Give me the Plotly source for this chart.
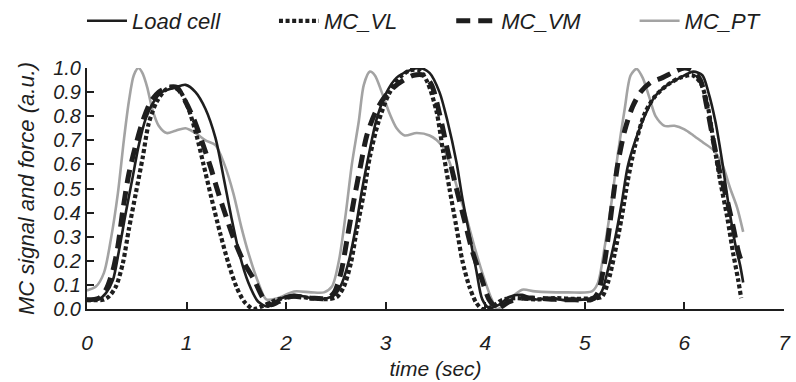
import plotly.graph_objects as go

# ---------------- data ----------------
lc_t = [0.00, 0.12, 0.19, 0.26, 0.32, 0.39, 0.46, 0.52, 0.59, 0.67, 0.75, 0.89, 0.99, 1.09, 1.19,
        1.29, 1.37, 1.45, 1.53, 1.62, 1.72, 1.82, 1.92, 2.08, 2.25, 2.41, 2.49, 2.56, 2.63, 2.70,
        2.76, 2.83, 2.91, 3.01, 3.11, 3.24, 3.34, 3.44, 3.54, 3.62, 3.71, 3.77, 3.84, 3.91, 3.97,
        4.04, 4.14, 4.24, 4.37, 4.50, 4.65, 4.83, 5.00, 5.10, 5.17, 5.23, 5.30, 5.37, 5.43, 5.50,
        5.60, 5.70, 5.83, 5.96, 6.09, 6.18, 6.24, 6.31, 6.38, 6.44, 6.51, 6.56, 6.59]
lc_v = [0.038, 0.041, 0.066, 0.12, 0.24, 0.40, 0.55, 0.68, 0.79, 0.86, 0.90, 0.92, 0.93, 0.90, 0.83,
        0.71, 0.55, 0.38, 0.23, 0.11, 0.03, 0.01, 0.038, 0.059, 0.045, 0.045, 0.059, 0.107, 0.20, 0.34,
        0.49, 0.64, 0.79, 0.90, 0.96, 0.99, 1.00, 0.98, 0.90, 0.78, 0.61, 0.46, 0.31, 0.16, 0.04,
        0.004, 0.018, 0.05, 0.059, 0.04, 0.045, 0.035, 0.04, 0.04, 0.073, 0.16, 0.285, 0.44, 0.59, 0.69,
        0.80, 0.88, 0.93, 0.96, 0.985, 0.97, 0.90, 0.78, 0.61, 0.44, 0.27, 0.18, 0.11]

vl_t = [0.00, 0.16, 0.22, 0.29, 0.36, 0.42, 0.49, 0.56, 0.62, 0.70, 0.79, 0.87, 0.94, 1.02, 1.10,
        1.17, 1.25, 1.34, 1.42, 1.50, 1.58, 1.67, 1.75, 1.92, 2.08, 2.25, 2.41, 2.51, 2.58, 2.65,
        2.71, 2.78, 2.84, 2.93, 3.03, 3.14, 3.24, 3.34, 3.42, 3.51, 3.57, 3.64, 3.71, 3.77, 3.84,
        3.91, 3.97, 4.07, 4.17, 4.30, 4.50, 4.70, 4.90, 5.10, 5.17, 5.23, 5.30, 5.37, 5.43, 5.50,
        5.60, 5.70, 5.83, 5.96, 6.08, 6.16, 6.23, 6.29, 6.36, 6.43, 6.49, 6.54, 6.57]
vl_v = [0.038, 0.038, 0.052, 0.093, 0.19, 0.33, 0.48, 0.63, 0.77, 0.86, 0.91, 0.92, 0.90, 0.83, 0.72,
        0.60, 0.46, 0.31, 0.19, 0.093, 0.03, 0.0, 0.01, 0.04, 0.052, 0.045, 0.041, 0.05, 0.093, 0.19,
        0.33, 0.48, 0.63, 0.78, 0.89, 0.96, 0.99, 0.99, 0.94, 0.82, 0.67, 0.50, 0.34, 0.20, 0.093,
        0.025, 0.0, 0.01, 0.038, 0.045, 0.04, 0.045, 0.042, 0.045, 0.05, 0.107, 0.23, 0.38, 0.53, 0.67,
        0.81, 0.88, 0.93, 0.96, 0.97, 0.94, 0.85, 0.70, 0.53, 0.38, 0.23, 0.12, 0.045]

vm_t = [0.00, 0.12, 0.19, 0.26, 0.31, 0.36, 0.42, 0.49, 0.56, 0.64, 0.72, 0.82, 0.90, 0.99, 1.07,
        1.15, 1.24, 1.32, 1.40, 1.48, 1.58, 1.68, 1.77, 1.85, 1.92, 2.05, 2.25, 2.41, 2.48, 2.55,
        2.61, 2.68, 2.75, 2.81, 2.89, 2.98, 3.08, 3.18, 3.28, 3.38, 3.46, 3.54, 3.62, 3.71, 3.79,
        3.87, 3.96, 4.04, 4.12, 4.24, 4.37, 4.50, 4.70, 4.90, 5.07, 5.13, 5.18, 5.23, 5.28, 5.33,
        5.40, 5.48, 5.56, 5.66, 5.78, 5.90, 6.00, 6.08, 6.16, 6.23, 6.29, 6.36, 6.43, 6.49, 6.54, 6.57]
vm_v = [0.038, 0.045, 0.08, 0.16, 0.26, 0.41, 0.56, 0.68, 0.78, 0.86, 0.90, 0.92, 0.92, 0.86, 0.79,
        0.70, 0.59, 0.48, 0.38, 0.285, 0.19, 0.12, 0.045, 0.018, 0.03, 0.052, 0.045, 0.045, 0.066, 0.15,
        0.285, 0.45, 0.60, 0.72, 0.81, 0.875, 0.92, 0.95, 0.97, 0.97, 0.93, 0.81, 0.66, 0.50, 0.37,
        0.24, 0.13, 0.038, 0.004, 0.03, 0.045, 0.045, 0.04, 0.038, 0.04, 0.066, 0.15, 0.285, 0.45, 0.60,
        0.74, 0.84, 0.90, 0.94, 0.96, 0.985, 1.00, 0.99, 0.95, 0.83, 0.70, 0.56, 0.45, 0.34, 0.24, 0.20]

pt_t = [0.00, 0.09, 0.17, 0.24, 0.31, 0.37, 0.42, 0.47, 0.516, 0.556, 0.605, 0.655, 0.72, 0.80, 0.89,
        0.99, 1.09, 1.19, 1.29, 1.38, 1.47, 1.55, 1.63, 1.72, 1.80, 1.915, 2.08, 2.25, 2.38, 2.46,
        2.53, 2.60, 2.66, 2.73, 2.78, 2.84, 2.89, 2.96, 3.04, 3.11, 3.19, 3.31, 3.44, 3.56, 3.64,
        3.72, 3.81, 3.89, 3.97, 4.06, 4.12, 4.24, 4.37, 4.50, 4.83, 5.07, 5.13, 5.20, 5.27, 5.33,
        5.40, 5.46, 5.52, 5.58, 5.65, 5.71, 5.80, 5.90, 6.00, 6.09, 6.19, 6.29, 6.38, 6.46, 6.53, 6.59]
pt_v = [0.077, 0.093, 0.15, 0.29, 0.48, 0.70, 0.86, 0.97, 1.00, 0.98, 0.92, 0.83, 0.76, 0.73, 0.74,
        0.75, 0.73, 0.70, 0.68, 0.60, 0.48, 0.34, 0.22, 0.11, 0.04, 0.045, 0.073, 0.069, 0.069, 0.093,
        0.20, 0.40, 0.60, 0.78, 0.93, 0.985, 0.97, 0.90, 0.81, 0.75, 0.72, 0.73, 0.72, 0.68, 0.61,
        0.50, 0.38, 0.26, 0.15, 0.045, 0.0, 0.04, 0.08, 0.073, 0.069, 0.073, 0.107, 0.26, 0.45, 0.64,
        0.83, 0.97, 0.996, 0.96, 0.875, 0.80, 0.76, 0.76, 0.745, 0.72, 0.69, 0.66, 0.60, 0.50, 0.42, 0.32]

series_names = ["Load cell", "MC_VL", "MC_VM", "MC_PT"]
x_ticks = [0, 1, 2, 3, 4, 5, 6, 7]
y_ticks = [0.0, 0.1, 0.2, 0.3, 0.4, 0.5, 0.6, 0.7, 0.8, 0.9, 1.0]
y_tick_labels = ["0.0", "0.1", "0.2", "0.3", "0.4", "0.5", "0.6", "0.7", "0.8", "0.9", "1.0"]

FONT = "Liberation Sans, Arial, sans-serif"
BLACK = "#1e1e1e"
GRAY = "#a3a3a3"
PAD = "\u00a0" * 8


def legend_name(s, pad=True):
    return "<i>" + s + "</i>" + (PAD if pad else "")


fig = go.Figure()
fig.add_trace(go.Scatter(x=pt_t, y=pt_v, name=legend_name(series_names[3], False), mode="lines", legendrank=4,
                         line=dict(color=GRAY, width=2.6, shape="spline", smoothing=0.8)))
fig.add_trace(go.Scatter(x=lc_t, y=lc_v, name=legend_name(series_names[0]), mode="lines", legendrank=1,
                         line=dict(color=BLACK, width=2.6, shape="spline", smoothing=0.8)))
fig.add_trace(go.Scatter(x=vl_t, y=vl_v, name=legend_name(series_names[1]), mode="lines", legendrank=2,
                         line=dict(color=BLACK, width=4.2, dash="4px,2.6px", shape="spline", smoothing=0.8)))
fig.add_trace(go.Scatter(x=vm_t, y=vm_v, name=legend_name(series_names[2]), mode="lines", legendrank=3,
                         line=dict(color=BLACK, width=5, dash="14px,8px", shape="spline", smoothing=0.8)))

fig.update_layout(
    width=796, height=382,
    margin=dict(l=87, r=5, t=68, b=71),
    paper_bgcolor="white", plot_bgcolor="white",
    font=dict(family=FONT, color=BLACK, size=20),
    showlegend=True,
    legend=dict(orientation="h", xref="container", x=0.103, xanchor="left",
                yref="container", y=1.0, yanchor="top",
                font=dict(size=22, family=FONT, color=BLACK), bgcolor="rgba(0,0,0,0)",
                itemwidth=40, tracegroupgap=0),
    xaxis=dict(range=[0, 7], tickvals=x_ticks, ticktext=[f"<i>{v}</i>" for v in x_ticks],
               ticks="inside", ticklen=7, tickwidth=1.5, tickcolor=BLACK,
               showline=True, linecolor=BLACK, linewidth=2, showgrid=False, zeroline=False,
               ticklabelstandoff=14, ticklabeloverflow="allow", tickfont=dict(size=21),
               title=dict(text="<i>time (sec)</i>", font=dict(size=21), standoff=8)),
    yaxis=dict(range=[0, 1.0], tickvals=y_ticks, ticktext=[f"<i>{s}</i>" for s in y_tick_labels],
               ticks="inside", ticklen=7, tickwidth=1.5, tickcolor=BLACK,
               showline=True, linecolor=BLACK, linewidth=2, showgrid=False, zeroline=False,
               tickfont=dict(size=20),
               title=dict(text="<i>MC signal and force (a.u.)</i>", font=dict(size=22), standoff=12)),
)

fig.write_html("out.html")
